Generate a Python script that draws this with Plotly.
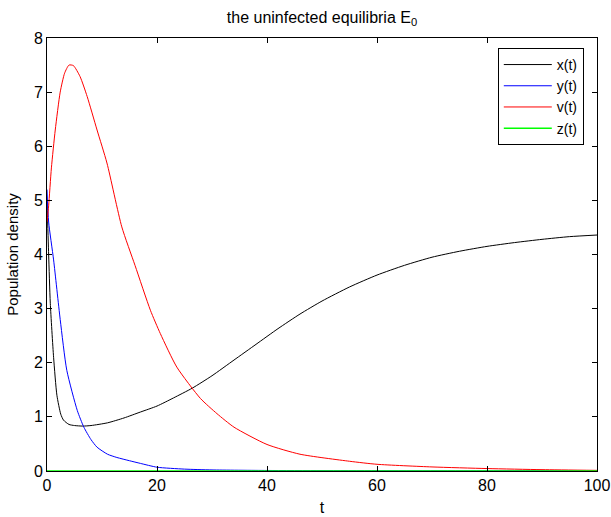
import plotly.graph_objects as go

# ---- data ----
t_x = [0, 0.3, 0.6, 1.2, 1.8, 2.5, 3, 4, 5, 6.5, 8, 11, 14, 17, 20, 23, 26.4, 30, 34, 38, 42, 46, 50, 55, 60, 65, 70, 75, 80, 85, 90, 95, 100]
x_vals = [5.0, 4.0, 3.1, 2.1, 1.4, 1.05, 0.94, 0.86, 0.84, 0.83, 0.84, 0.89, 0.98, 1.09, 1.2, 1.35, 1.53, 1.76, 2.05, 2.34, 2.63, 2.90, 3.14, 3.40, 3.62, 3.80, 3.95, 4.06, 4.15, 4.22, 4.28, 4.33, 4.36]

t_y = [0, 0.3, 1.2, 2.4, 3.6, 5.5, 6.7, 8, 9.1, 11, 12.7, 15, 17, 20, 25, 30, 40, 50, 60, 80, 100]
y_vals = [5.2, 4.6, 3.9, 2.8, 1.86, 1.12, 0.81, 0.58, 0.44, 0.31, 0.25, 0.19, 0.14, 0.07, 0.035, 0.02, 0.01, 0.006, 0.004, 0.002, 0.001]

t_v = [0, 0.3, 0.8, 1.5, 2.4, 3.2, 4.0, 4.8, 6.0, 7.3, 9.1, 10.9, 13.6, 16, 18.8, 20.6, 23.6, 27.9, 30.9, 34, 40, 46, 55, 60, 70, 80, 90, 100]
v_vals = [4.6, 4.9, 5.6, 6.3, 7.0, 7.35, 7.5, 7.49, 7.29, 6.92, 6.30, 5.69, 4.51, 3.8, 2.97, 2.54, 1.92, 1.34, 1.06, 0.81, 0.49, 0.31, 0.18, 0.124, 0.075, 0.045, 0.025, 0.012]

t_z = [0, 100]
z_vals = [0, 0]

x_ticks = [0, 20, 40, 60, 80, 100]
y_ticks = [0, 1, 2, 3, 4, 5, 6, 7, 8]

FONT = "Liberation Sans, Arial, Helvetica, sans-serif"

fig = go.Figure()
fig.add_trace(go.Scatter(x=t_x, y=x_vals, mode="lines", name="x(t)", line=dict(color="#000000", width=1, shape="spline", smoothing=0.6)))
fig.add_trace(go.Scatter(x=t_y, y=y_vals, mode="lines", name="y(t)", line=dict(color="#0000ff", width=1, shape="spline", smoothing=0.6)))
fig.add_trace(go.Scatter(x=t_v, y=v_vals, mode="lines", name="v(t)", line=dict(color="#ff0000", width=1, shape="spline", smoothing=0.6)))
fig.add_trace(go.Scatter(x=t_z, y=z_vals, mode="lines", name="z(t)", line=dict(color="#00ff00", width=1.5)))

axis_common = dict(
    showline=True, linecolor="black", linewidth=1, mirror="ticks",
    ticks="inside", ticklen=5, tickcolor="black", tickwidth=1,
    showgrid=False, zeroline=False, automargin=False, ticklabeloverflow="allow",
    tickfont=dict(family=FONT, size=16, color="black"),
)

fig.update_layout(
    width=611, height=517,
    margin=dict(l=47, r=14, t=38, b=46),
    paper_bgcolor="white", plot_bgcolor="white",
    title=dict(text="the uninfected equilibria E<sub>0</sub>", x=0.527, xanchor="center", y=0.967, yanchor="middle",
               font=dict(family=FONT, size=16, color="black")),
    xaxis=dict(range=[0, 100], tickvals=x_ticks, title=dict(text="t", standoff=8, font=dict(family=FONT, size=16, color="black")), **axis_common),
    yaxis=dict(range=[0, 8], tickvals=y_ticks, title=dict(text="Population density", standoff=11, font=dict(family=FONT, size=15, color="black")), **axis_common),
    legend=dict(x=0.976, y=0.977, xanchor="right", yanchor="top", bgcolor="white",
                bordercolor="black", borderwidth=1, font=dict(family=FONT, size=14, color="black"),
                tracegroupgap=0, itemwidth=48),
    showlegend=True,
)

fig.write_html(
    "out.html",
    config={"displayModeBar": False},
    post_script="document.body.style.margin='0';document.body.style.overflow='hidden';",
)
